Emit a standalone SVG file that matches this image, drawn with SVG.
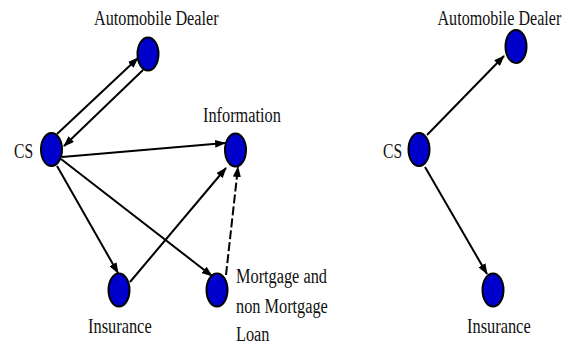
<svg xmlns="http://www.w3.org/2000/svg" width="569" height="348" viewBox="0 0 569 348">
<style>
.node{fill:#0000cc;stroke:#000;stroke-width:2}
.lbl{font-family:'Liberation Serif','Times New Roman',serif;font-size:20px;fill:#111}
.edge{stroke:#000;stroke-width:2;fill:none;marker-end:url(#ah)}
.dash{stroke-dasharray:9 3}
</style>
<defs>
<marker id="ah" markerUnits="userSpaceOnUse" markerWidth="11" markerHeight="8" refX="10" refY="4" orient="auto">
<path d="M0,0 L11,4 L0,8 Z" fill="#000"/>
</marker>
</defs>
<rect width="569" height="348" fill="#fff"/>
<g id="connectors">
<line class="edge" x1="57" y1="134" x2="138" y2="58"/>
<line class="edge" x1="143" y1="70" x2="64" y2="146"/>
<line class="edge" x1="62" y1="157" x2="225" y2="143" stroke-width="2.5"/>
<line class="edge" x1="57" y1="166" x2="118" y2="273"/>
<line class="edge" x1="61" y1="159" x2="212" y2="276"/>
<line class="edge" x1="130" y1="282" x2="226" y2="168"/>
<line class="edge dash" x1="226" y1="275" x2="238" y2="167"/>
<line class="edge" x1="427" y1="135" x2="504" y2="56"/>
<line class="edge" x1="425" y1="167" x2="487" y2="274"/>
</g>
<g id="cs-left">
<ellipse class="node" cx="51.5" cy="149.5" rx="10.5" ry="16.5"/>
<text class="lbl" transform="translate(14,157.5) scale(0.78,1)">CS</text>
</g>
<g id="dealer-left">
<ellipse class="node" cx="148" cy="54" rx="10.5" ry="16.5"/>
<text class="lbl" transform="translate(94,24.5) scale(0.81,1)">Automobile Dealer</text>
</g>
<g id="information">
<ellipse class="node" cx="235.5" cy="150" rx="10.5" ry="16.5"/>
<text class="lbl" transform="translate(203,121.5) scale(0.815,1)">Information</text>
</g>
<g id="insurance-left">
<ellipse class="node" cx="119" cy="290" rx="10.5" ry="16.5"/>
<text class="lbl" transform="translate(88,333) scale(0.82,1)">Insurance</text>
</g>
<g id="mortgage">
<ellipse class="node" cx="217" cy="290" rx="10.5" ry="16.5"/>
<text class="lbl" transform="translate(236,283) scale(0.815,1)">Mortgage and</text>
<text class="lbl" transform="translate(236,312.5) scale(0.815,1)">non Mortgage</text>
<text class="lbl" transform="translate(236,341) scale(0.815,1)">Loan</text>
</g>
<g id="cs-right">
<ellipse class="node" cx="419" cy="149.5" rx="10.5" ry="16.5"/>
<text class="lbl" transform="translate(383,157.5) scale(0.78,1)">CS</text>
</g>
<g id="dealer-right">
<ellipse class="node" cx="516" cy="46.5" rx="10.5" ry="16.5"/>
<text class="lbl" transform="translate(437.5,24.5) scale(0.805,1)">Automobile Dealer</text>
</g>
<g id="insurance-right">
<ellipse class="node" cx="493" cy="290" rx="10.5" ry="16.5"/>
<text class="lbl" transform="translate(467,333) scale(0.82,1)">Insurance</text>
</g>
</svg>
